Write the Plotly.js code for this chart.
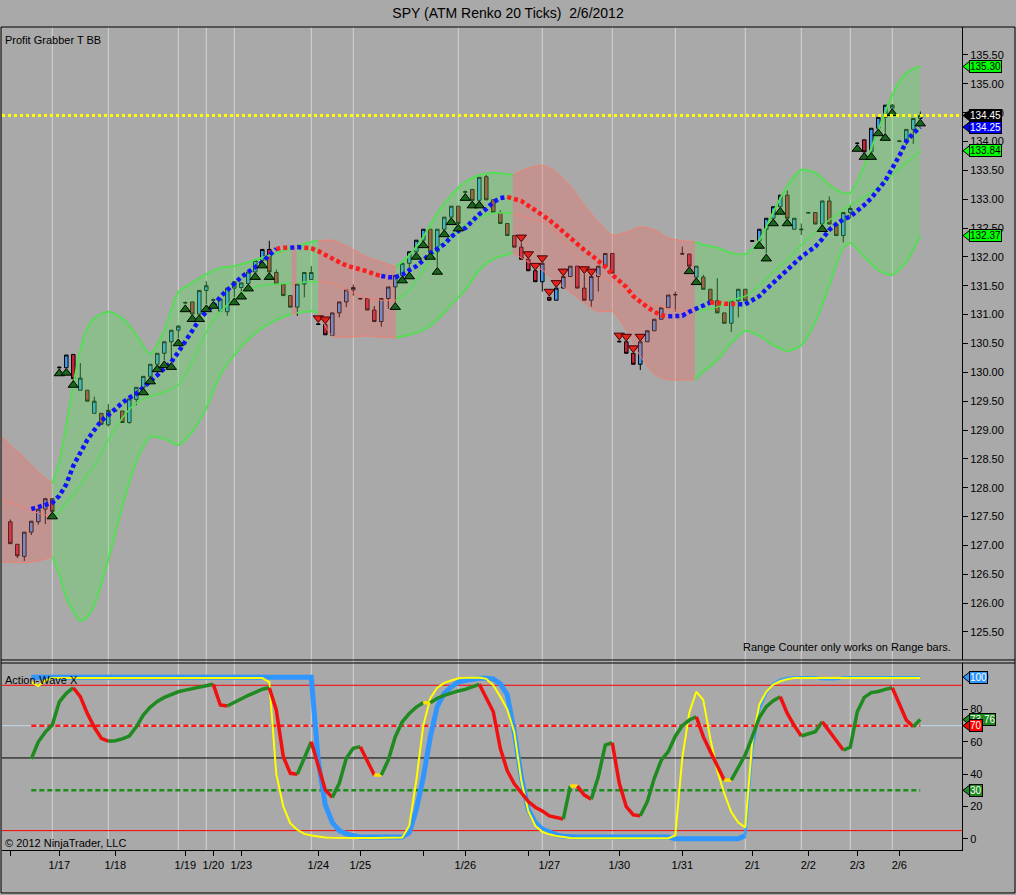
<!DOCTYPE html>
<html><head><meta charset="utf-8">
<script src="https://cdn.plot.ly/plotly-3.0.1.min.js"></script>
<style>html,body{margin:0;padding:0;background:#a9a9a9;}#chart{width:1016px;height:895px;}</style>
</head><body><div id="chart"></div>
<script>
// ---------- price bars (ATM Renko) ----------
const barOpen = [
127.41,127.02,126.81,127.23,127.41,127.63,127.81,130.09,130.08,130.31,
129.69,129.69,129.29,129.29,129.09,129.34,129.33,129.13,129.53,129.74,
129.93,130.14,130.33,130.53,130.73,131.20,131.22,131.01,131.42,131.26,
131.06,131.05,131.46,131.47,131.54,131.74,131.94,132.13,131.73,131.53,
131.33,131.13,131.53,131.61,130.84,130.83,130.64,131.03,131.22,131.43,
131.27,131.28,131.08,130.88,131.28,131.48,131.68,131.89,132.09,132.29,
132.48,132.09,132.48,132.69,132.88,133.12,133.17,132.98,133.39,132.99,
132.77,132.58,132.37,132.17,131.96,131.76,131.57,131.30,131.25,131.46,
131.66,131.84,131.46,131.25,131.66,131.84,132.06,130.54,130.53,130.33,
130.14,130.53,130.72,130.92,131.12,131.34,132.06,132.05,131.65,131.65,
131.44,131.24,131.03,130.85,131.24,131.44,132.27,132.28,132.48,132.67,
132.87,133.07,132.48,132.47,132.76,132.77,132.57,132.97,132.57,132.37,
132.77,133.97,134.03,133.82,134.23,134.42,134.58,134.00,134.01,134.21,134.40];
const barHigh = [
127.45,127.02,127.23,127.42,127.63,127.81,127.81,130.10,130.30,130.31,
130.16,129.69,129.58,129.29,129.45,129.36,129.33,129.54,129.74,129.93,
130.14,130.33,130.53,130.73,130.82,131.23,131.22,131.42,131.58,131.28,
131.27,131.46,131.57,131.55,131.74,131.94,132.13,132.28,131.78,131.53,
131.33,131.53,131.73,131.84,130.85,130.83,131.03,131.22,131.43,131.52,
131.29,131.28,131.15,131.28,131.48,131.68,131.89,132.09,132.29,132.48,
132.48,132.48,132.69,132.88,132.88,133.15,133.17,133.38,133.42,132.99,
132.81,132.58,132.37,132.25,131.96,131.76,131.89,131.31,131.46,131.66,
131.84,131.84,131.70,131.66,131.84,132.06,132.06,130.55,130.53,130.33,
130.53,130.72,130.92,131.12,131.34,131.40,132.18,132.05,131.84,131.69,
131.44,131.63,131.03,131.24,131.44,131.44,132.29,132.48,132.67,132.87,
133.07,133.15,132.67,132.58,132.78,132.77,132.97,133.05,132.57,132.77,
132.90,133.98,134.03,134.23,134.42,134.63,134.65,134.02,134.21,134.40,134.52];
const barLow = [
127.03,126.78,126.73,127.18,127.36,127.37,127.59,130.07,130.08,129.87,
129.69,129.50,129.29,129.10,129.06,129.33,129.13,129.11,129.43,129.74,
129.93,130.14,130.21,130.18,130.59,131.18,131.01,131.01,131.18,131.24,
131.06,130.98,131.30,131.40,131.54,131.74,131.94,131.74,131.53,131.33,
131.13,130.98,131.30,131.61,130.82,130.65,130.64,130.95,131.13,131.33,
131.26,131.08,130.88,130.79,131.10,131.22,131.68,131.75,132.09,132.29,
132.09,131.83,132.48,132.69,132.58,133.11,132.98,132.98,132.99,132.77,
132.58,132.37,132.17,131.96,131.76,131.57,131.40,131.24,131.25,131.46,
131.66,131.46,131.25,131.14,131.40,131.84,131.72,130.52,130.33,130.14,
130.04,130.53,130.72,130.92,131.12,131.05,132.04,131.84,131.65,131.44,
131.24,131.03,130.85,130.70,130.95,131.24,132.26,132.28,132.06,132.67,
132.87,132.67,132.48,132.38,132.75,132.57,132.57,132.57,132.37,132.25,
132.67,133.96,133.82,133.82,134.23,134.15,134.58,133.99,133.94,133.96,134.40];
const barClose = [
127.03,126.82,127.23,127.42,127.63,127.81,127.59,130.08,130.30,129.89,
129.90,129.50,129.50,129.10,129.34,129.33,129.13,129.54,129.74,129.93,
130.14,130.33,130.53,130.73,130.80,131.21,131.01,131.42,131.50,131.25,
131.27,131.46,131.57,131.55,131.74,131.94,132.13,131.74,131.53,131.33,
131.13,131.53,131.73,131.73,130.83,130.65,131.03,131.22,131.43,131.47,
131.28,131.08,130.88,131.28,131.48,131.68,131.89,132.09,132.29,132.48,
132.09,132.48,132.69,132.88,132.58,133.13,132.98,133.38,132.99,132.77,
132.58,132.37,132.17,131.96,131.76,131.57,131.89,131.25,131.46,131.66,
131.84,131.46,131.25,131.66,131.84,132.06,131.72,130.53,130.33,130.14,
130.53,130.72,130.92,131.12,131.34,131.35,132.05,131.84,131.84,131.44,
131.24,131.03,130.85,131.24,131.44,131.24,132.28,132.48,132.67,132.87,
133.07,132.67,132.67,132.48,132.77,132.57,132.97,132.57,132.37,132.77,
132.84,133.97,133.82,134.23,134.42,134.63,134.63,134.01,134.21,134.40,134.45];

// signal arrows (bar indices)
const buySignals  = [6,7,8,9,19,20,21,22,23,24,25,26,27,28,29,32,33,34,35,36,37,55,56,57,58,59,60,61,62,63,64,65,66,67,97,98,107,108,109,110,111,116,121,122,123,124,125,126,130];
const sellSignals = [44,45,73,74,75,76,77,78,79,82,83,87,88,89,90];

// trend line (dotted)
const trendLine = [
null,null,null,127.63,127.67,127.72,127.74,127.86,128.06,128.38,
128.60,128.83,129.00,129.16,129.26,129.37,129.47,129.56,129.63,129.74,
129.84,129.95,130.07,130.18,130.35,130.54,130.72,130.91,131.05,131.15,
131.31,131.43,131.55,131.65,131.74,131.83,131.91,132.03,132.14,132.16,
132.16,132.17,132.16,132.15,132.10,132.03,131.97,131.91,131.85,131.82,
131.79,131.75,131.70,131.67,131.65,131.65,131.69,131.77,131.84,131.94,
132.06,132.14,132.22,132.35,132.45,132.50,132.63,132.74,132.83,132.95,
133.02,133.04,133.01,132.97,132.89,132.81,132.73,132.64,132.54,132.43,
132.34,132.22,132.12,132.03,131.94,131.83,131.69,131.59,131.48,131.32,
131.22,131.13,131.05,130.99,130.97,130.97,130.98,131.05,131.10,131.16,
131.21,131.21,131.19,131.18,131.18,131.18,131.25,131.32,131.44,131.55,
131.66,131.79,131.90,132.00,132.09,132.18,132.31,132.47,132.57,132.65,
132.70,132.79,132.90,133.02,133.16,133.32,133.54,133.75,134.00,134.14,134.25];
const trendDownRanges = [[39,40],[43,53],[72,94],[101,104]];

// Bollinger bands (sampled)
const bandX = [-1.2,0,2,4,6,7,8,9,10,11,12,14,16,18,20,22,24,26,28,30,32,35,38,40.2,40.9,43,44,46,48,51,53,55.1,57,59,61,63,65,67,69,71.8,74,76,78,80,82,84,86,88,90,92,94,96,97.8,99,101,103,105,107,109,111,113,115,117,119,120,122,124,126,128,130];
const bandUpper = [128.88,128.74,128.52,128.27,128.08,128.45,129.09,129.78,130.39,130.77,130.94,131.05,130.94,130.65,130.32,130.73,131.39,131.55,131.70,131.81,131.84,131.95,132.07,132.17,132.19,132.26,132.28,132.29,132.19,132.00,131.91,131.83,132.03,132.35,132.76,133.07,133.30,133.42,133.46,133.42,133.54,133.59,133.47,133.23,132.90,132.61,132.38,132.43,132.52,132.47,132.33,132.28,132.26,132.21,132.16,132.07,132.05,132.29,132.78,133.23,133.51,133.46,133.25,133.11,133.11,133.59,134.20,134.81,135.19,135.30];
const bandMiddle = [127.79,127.74,127.65,127.56,127.49,127.58,127.75,127.87,128.05,128.22,128.38,128.83,129.21,129.47,129.59,129.66,129.78,130.18,130.70,131.05,131.27,131.48,131.53,131.55,131.55,131.57,131.57,131.55,131.43,131.29,131.25,131.25,131.43,131.77,132.12,132.36,132.55,132.69,132.76,132.76,132.67,132.61,132.42,132.12,131.84,131.69,131.57,131.39,131.25,131.17,131.10,131.06,131.08,131.08,131.13,131.25,131.32,131.50,131.74,131.95,132.21,132.43,132.64,132.81,132.90,133.04,133.21,133.42,133.63,133.84];
const bandLower = [126.71,126.71,126.70,126.73,126.80,126.49,126.09,125.85,125.69,125.76,125.97,126.75,127.68,128.45,128.88,128.85,128.74,128.97,129.38,129.95,130.30,130.68,130.91,131.01,131.03,131.06,131.03,130.63,130.61,130.63,130.61,130.60,130.65,130.73,130.91,131.17,131.43,131.77,131.96,132.07,131.91,131.77,131.57,131.39,131.20,131.05,131.05,130.73,130.28,129.97,129.87,129.87,129.87,130.01,130.21,130.51,130.72,130.63,130.47,130.37,130.47,130.87,131.51,132.16,132.24,132.00,131.77,131.69,131.91,132.37];
const bandSegStart = [-1.2, 6, 40.2, 40.9, 44, 55.1, 71.8, 97.8];
const bandSegEnd   = [6, 40.2, 40.9, 44, 55.1, 71.8, 97.8, 130];
const bandSegTrend = [-1, 1, -1, 1, -1, 1, -1, 1];

// ---------- Action-Wave X oscillator ----------
const oscSignal = [
null,null,null,100,100,100,100,100,100,100,
100,100,100,100,100,100,100,100,100,100,
100,100,100,100,100,100,100,100,100,100,
100,100,100,100,100,100,100,100,100,100,
100,100,100,100,48,21,10,5,3,1.7,
1,1,1,1,1,1,1,3.7,18,38,
63,82,90,94,97,98,99,99.3,99.3,99,
96,89,66,38,18,10,6,4,2.4,1.5,
1,1,1,1,1,1,1,1,1,1,
1,1,1,1,1,0,0,0,0,0,
0,0,0,0,0,2,55,80,90,96,
98.5,99.5,100,100,100,100,98.8,98.8,98.8,100,
100,100,100,100,100,100,100,100,100,100,100];
const oscFast = [
null,null,null,97,94.5,98,99.5,99.5,99.5,99.5,
99.5,99.5,99.5,99.5,99.5,99.5,99.5,99.5,99.5,99.5,
99.5,99.5,99.5,99.5,99.5,99.5,99.5,99.5,99.5,99.5,
99.5,99.5,99.5,99.5,99.5,99.5,99.5,97,40,20,
9.5,5.5,3,2,1.2,0.8,0.6,0.5,0.5,0.5,
0.5,0.5,0.5,0.5,0.5,0.5,0.8,8,36,70,
87,93.5,96.5,98,99.3,99.6,99.8,99.8,99,95,
88,80,66,36,17,8,4.3,2.7,1.7,1,
0.5,0.3,0.3,0.3,0.3,0.3,0.3,0.3,0.3,0.3,
0.3,0.3,0.3,0.3,0.3,2,50,78,91,86,
62,42,28,16.5,10,7,60,83,91,95.5,
97.5,98.8,99.5,99.5,99.5,99.5,99.5,99.5,99.5,99.5,
99.5,99.5,99.5,99.5,99.5,99.5,99.5,99.5,99.5,99.5,99.5];
const oscWave = [
null,null,null,49.4,60,66,70.4,84.8,90,93.5,
88,77.6,69,62.2,60.4,60.7,61.8,63.5,69.3,76.6,
81.5,85,87.5,89.5,91,92,93,94,94.8,95.6,
82.8,82.2,84.5,86.8,88.8,90.6,92.6,93.5,79.7,50.8,
40.5,39.9,50,60,44.6,30.2,25.6,34.3,49.8,56,
57,48.7,39.4,39.4,48.7,63.2,72.4,77.5,81.5,84.2,
84.2,87,88.8,90.3,91.5,92.5,94,95.6,87,78.6,
56,42,34,28.1,23,19.5,17.2,14.1,13,12.2,
32.6,32.6,27,24.4,38.4,58,59.4,34.3,19.8,14.7,
14.2,22.9,37.4,48.7,54,63.5,70,73.5,75.5,63.2,
54,45,36.3,36.3,44.6,52,63,75,81.7,85.5,
87.9,77.6,70,63.6,65,66.3,72.4,66.3,60.5,54.9,
56.6,78.6,87.5,90.5,91.2,92.5,93.5,83.8,73.5,69.3,73.76];
const oscBandHigh = 95, oscBandLow = 5, oscMid = 50, oscOverbought = 70, oscOversold = 30;

// ---------- axis ----------
const xTickVals = [0,7,15,25,29,33,44,50,59,65,74,77,87,96,106,114,121,127];
const xTickText = ['','1/17','1/18','1/19','1/20','1/23','1/24','1/25','','1/26','','1/27','1/30','1/31','2/1','2/2','2/3','2/6'];
const sessionBreaks = [6,14,24,28,32,43,49,64,76,86,95,105,113,120,126];
const priceTicks = [125.5,126,126.5,127,127.5,128,128.5,129,129.5,130,130.5,131,131.5,132,132.5,133,133.5,134,134.5,135,135.5];
const oscTicks = [0,20,40,60,80,100];

// ---------- build ----------
const FONT = 'Liberation Sans, Arial, sans-serif';
const N = barClose.length;
const idx = barClose.map((_, i) => i);
const traces = [];
const base = {hoverinfo:'skip', showlegend:false};

for (let s = 0; s < bandSegStart.length; s++) {
  const xs = [], us = [], ms = [], ls = [];
  bandX.forEach((x, k) => {
    if (x >= bandSegStart[s] - 1e-9 && x <= bandSegEnd[s] + 1e-9) {
      xs.push(x); us.push(bandUpper[k]); ms.push(bandMiddle[k]); ls.push(bandLower[k]);
    }
  });
  const up = bandSegTrend[s] > 0;
  const lc = up ? '#55de55' : '#f2806f';
  const lw = up ? 2 : 1;
  const fc = up ? 'rgba(90,225,90,0.35)' : 'rgba(245,105,95,0.32)';
  traces.push(Object.assign({type:'scatter', mode:'lines', x:xs, y:ls, xaxis:'x', yaxis:'y',
    line:{color:lc, width:lw, shape:'spline', smoothing:0.7}}, base));
  traces.push(Object.assign({type:'scatter', mode:'lines', x:xs, y:us, xaxis:'x', yaxis:'y', fill:'tonexty', fillcolor:fc,
    line:{color:lc, width:lw, shape:'spline', smoothing:0.7}}, base));
  traces.push(Object.assign({type:'scatter', mode:'lines', x:xs, y:ms, xaxis:'x', yaxis:'y',
    line:{color:lc, width:up ? 1.5 : 1, shape:'spline', smoothing:0.7}}, base));
}

traces.push(Object.assign({type:'candlestick', x:idx, open:barOpen, high:barHigh, low:barLow, close:barClose,
  xaxis:'x', yaxis:'y', whiskerwidth:0,
  increasing:{fillcolor:'#3d9df2', line:{color:'#000', width:1}},
  decreasing:{fillcolor:'#cc1f3a', line:{color:'#000', width:1}}}, base));

// dotted trend line, coloured by direction
const trendColor = idx.map(i => trendLine[i] == null ? null :
  (trendDownRanges.some(r => i >= r[0] && i <= r[1]) ? '#ff1c1c' : '#1212ff'));
function runs(colors, vals) {
  const out = [];
  for (let i = 0; i < colors.length; i++) {
    if (vals[i] == null || colors[i] == null) continue;
    const last = out[out.length - 1];
    if (last && last.c === colors[i] && last.end === i - 1) last.end = i;
    else out.push({c: colors[i], start: i, end: i});
  }
  return out;
}
runs(trendColor, trendLine).forEach((r, k) => {
  const s = (k > 0 && trendLine[r.start - 1] != null) ? r.start - 1 : r.start;
  traces.push(Object.assign({type:'scatter', mode:'lines', x:idx.slice(s, r.end + 1), y:trendLine.slice(s, r.end + 1),
    xaxis:'x', yaxis:'y', line:{color:r.c, width:4.5, dash:'4px,3px'}}, base));
});

traces.push(Object.assign({type:'scatter', mode:'markers', x:buySignals, y:buySignals.map(i => barLow[i] - 0.09),
  xaxis:'x', yaxis:'y', marker:{symbol:'triangle-up', size:9, color:'#17661a', line:{color:'#000', width:1}}}, base));
traces.push(Object.assign({type:'scatter', mode:'markers', x:sellSignals, y:sellSignals.map(i => barHigh[i] + 0.09),
  xaxis:'x', yaxis:'y', marker:{symbol:'triangle-down', size:9, color:'#e3221c', line:{color:'#400', width:1}}}, base));

// oscillator
traces.push(Object.assign({type:'scatter', mode:'lines', x:idx.slice(0, 106), y:oscSignal.slice(0, 106),
  xaxis:'x', yaxis:'y2', line:{color:'#2f95ff', width:5}}, base));
traces.push(Object.assign({type:'scatter', mode:'lines', x:idx.slice(105), y:oscSignal.slice(105),
  xaxis:'x', yaxis:'y2', line:{color:'#3aa0ff', width:2.5}}, base));
traces.push(Object.assign({type:'scatter', mode:'lines', x:idx, y:oscFast,
  xaxis:'x', yaxis:'y2', line:{color:'#ffff00', width:2}}, base));
const waveColor = idx.map(i => (i === 0 || oscWave[i] == null || oscWave[i-1] == null) ? null :
  (oscWave[i] > oscWave[i-1] ? '#1f8a1f' : (oscWave[i] < oscWave[i-1] ? '#f01010' : '#ffe000')));
runs(waveColor, oscWave).forEach(r => {
  traces.push(Object.assign({type:'scatter', mode:'lines', x:idx.slice(r.start - 1, r.end + 1), y:oscWave.slice(r.start - 1, r.end + 1),
    xaxis:'x', yaxis:'y2', line:{color:r.c, width:3.5}}, base));
});

// ---------- shapes ----------
const firstOsc = oscWave.findIndex(v => v != null);
const shapes = [];
sessionBreaks.forEach(v => shapes.push({type:'line', xref:'x', yref:'paper', x0:v, x1:v, y0:0, y1:1,
  line:{color:'#d4d4d4', width:1}, layer:'below'}));
[[oscBandHigh,'#ff0000'],[oscBandLow,'#ff0000'],[oscMid,'#000000'],[oscOverbought,'#bcd8ea']].forEach(([v,c]) =>
  shapes.push({type:'line', xref:'paper', yref:'y2', x0:0, x1:1, y0:v, y1:v, line:{color:c, width:1}, layer:'below'}));
shapes.push({type:'line', xref:'x', yref:'y2', x0:firstOsc, x1:N - 1, y0:oscOverbought, y1:oscOverbought,
  line:{color:'#ff1a1a', width:2.5, dash:'5px,3px'}, layer:'below'});
shapes.push({type:'line', xref:'x', yref:'y2', x0:firstOsc, x1:N - 1, y0:oscOversold, y1:oscOversold,
  line:{color:'#1a8c1a', width:2.5, dash:'5px,3px'}, layer:'below'});
const lastPrice = barClose[N - 1];
shapes.push({type:'line', xref:'paper', yref:'y', x0:0, x1:1, y0:lastPrice, y1:lastPrice,
  line:{color:'#ffff00', width:3, dash:'3px,3px'}, layer:'above'});
// frames
const topDom = [0.2309, 1], botDom = [0, 0.2272];
const XR = 1.0552, XL = -0.001, YB = -0.0522;
shapes.push({type:'rect', xref:'paper', yref:'paper', x0:XL, x1:XR, y0:YB, y1:1, line:{color:'#000', width:1}, layer:'above'});
shapes.push({type:'line', xref:'paper', yref:'paper', x0:XL, x1:XR, y0:topDom[0], y1:topDom[0], line:{color:'#000', width:1}, layer:'above'});
shapes.push({type:'line', xref:'paper', yref:'paper', x0:XL, x1:XR, y0:botDom[1], y1:botDom[1], line:{color:'#000', width:1}, layer:'above'});

// value labels
const annotations = [];
function valueLabel(v, txt, yref, bg, fg) {
  shapes.push({type:'path', xref:'paper', xsizemode:'pixel', xanchor:1, yref:yref, ysizemode:'pixel', yanchor:v,
    path:'M1,0 L8,5.5 L8,-5.5 Z', fillcolor:bg, line:{color:'#000', width:1}, layer:'above'});
  annotations.push({xref:'paper', x:1, xanchor:'left', xshift:7, yref:yref, y:v, yanchor:'middle', text:txt, showarrow:false,
    bgcolor:bg, bordercolor:'#000', borderwidth:1, borderpad:0, font:{family:FONT, size:10, color:fg}});
}
valueLabel(bandUpper[bandUpper.length-1], bandUpper[bandUpper.length-1].toFixed(2), 'y', '#00ff00', '#000');
valueLabel(bandMiddle[bandMiddle.length-1], bandMiddle[bandMiddle.length-1].toFixed(2), 'y', '#00ff00', '#000');
valueLabel(bandLower[bandLower.length-1], bandLower[bandLower.length-1].toFixed(2), 'y', '#00ff00', '#000');
valueLabel(lastPrice, lastPrice.toFixed(2), 'y', '#000000', '#fff');
valueLabel(trendLine[N-1], trendLine[N-1].toFixed(2), 'y', '#0000ff', '#fff');
valueLabel(oscSignal[N-1], String(oscSignal[N-1]), 'y2', '#2f95ff', '#fff');
valueLabel(oscWave[N-1], oscWave[N-1].toFixed(2), 'y2', '#1f8a1f', '#fff');
valueLabel(oscOverbought, String(oscOverbought), 'y2', '#ff0000', '#fff');
valueLabel(oscOversold, String(oscOversold), 'y2', '#1f8a1f', '#fff');

const txt = (t, x, y, xa, ya) => ({xref:'paper', yref:'paper', x:x, y:y, xanchor:xa, yanchor:ya, text:t, showarrow:false,
  font:{family:FONT, size:11, color:'#000'}});
annotations.push(txt('Profit Grabber T BB', 0.001, 0.9945, 'left', 'top'));
annotations.push(txt('Range Counter only works on Range bars.', 0.9906, 0.2467, 'right', 'middle'));
annotations.push(txt('Action-Wave X', 0.001, 0.2066, 'left', 'middle'));
annotations.push(txt('© 2012 NinjaTrader, LLC', 0.001, 0.0085, 'left', 'middle'));

const axisFont = {family:FONT, size:11, color:'#000'};
const layout = {
  width:1016, height:895,
  margin:{l:2, r:54, t:27, b:45, pad:0},
  paper_bgcolor:'#a9a9a9', plot_bgcolor:'#a9a9a9',
  showlegend:false, boxgap:0.28,
  title:{text:'SPY (ATM Renko 20 Ticks) &nbsp;2/6/2012', font:{family:FONT, size:14, color:'#000'},
    x:0.5, xref:'container', xanchor:'center', y:0.9855, yref:'container', yanchor:'middle'},
  xaxis:{domain:[0,1], anchor:'y2', range:[-1.186, 135.96], showgrid:false, zeroline:false,
    tickmode:'array', tickvals:xTickVals, ticktext:xTickText, ticks:'outside', ticklen:5, tickcolor:'#000',
    showline:true, linecolor:'#000', linewidth:1, tickfont:axisFont, rangeslider:{visible:false}, fixedrange:true},
  yaxis:{domain:topDom, anchor:'x', side:'right', range:[125.015, 135.985], showgrid:false, zeroline:false,
    tickmode:'array', tickvals:priceTicks, ticktext:priceTicks.map(v => v.toFixed(2)), ticks:'outside', ticklen:5,
    tickcolor:'#000', showline:true, linecolor:'#000', tickfont:axisFont, fixedrange:true},
  yaxis2:{domain:botDom, anchor:'x', side:'right', range:[-7, 108.8], showgrid:false, zeroline:false,
    tickmode:'array', tickvals:oscTicks, ticktext:oscTicks.map(String), ticks:'outside', ticklen:5,
    tickcolor:'#000', showline:true, linecolor:'#000', tickfont:axisFont, fixedrange:true},
  shapes:shapes, annotations:annotations
};
Plotly.newPlot('chart', traces, layout, {displayModeBar:false, staticPlot:true});
</script>
</body></html>
